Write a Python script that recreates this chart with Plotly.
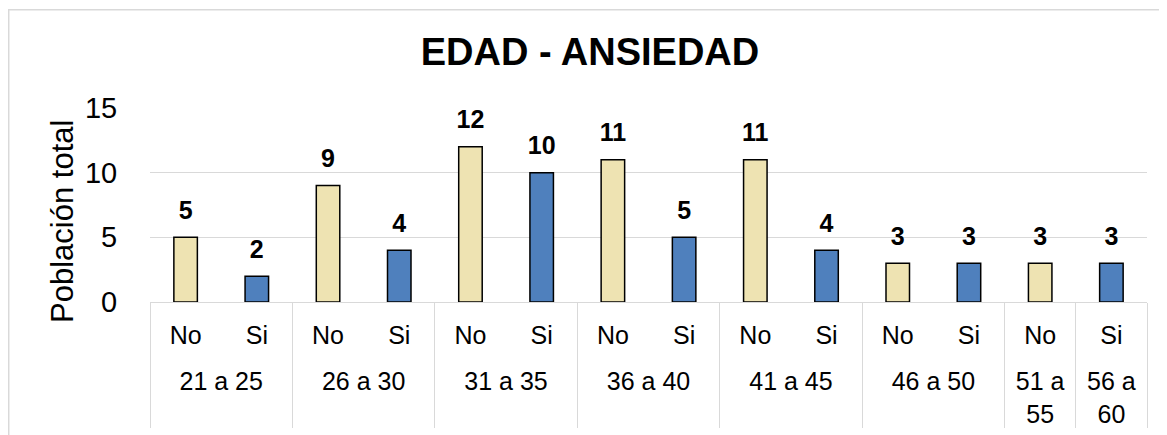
import plotly.graph_objects as go

groups = ["21 a 25", "21 a 25", "26 a 30", "26 a 30", "31 a 35", "31 a 35",
          "36 a 40", "36 a 40", "41 a 45", "41 a 45", "46 a 50", "46 a 50",
          "51 a<br>55", "56 a<br>60"]
answers = ["No", "Si", "No", "Si", "No", "Si", "No", "Si", "No", "Si", "No", "Si", "No", "Si"]
values = [5, 2, 9, 4, 12, 10, 11, 5, 11, 4, 3, 3, 3, 3]

color_map = {"No": "#EEE3B2", "Si": "#4F80BD"}
colors = [color_map[a] for a in answers]

FONT = "Liberation Sans, Arial, sans-serif"
PAD = "<span style='font-size:40px'>\u00a0</span>"
answer_labels = [PAD + a + PAD for a in answers]

fig = go.Figure()
fig.add_trace(go.Bar(
    x=[groups, answer_labels],
    y=values,
    marker=dict(color=colors, line=dict(color="#000000", width=1.5)),
    width=0.33,
    showlegend=False,
    hoverinfo="y",
))
fig.add_trace(go.Scatter(
    x=[groups, answer_labels],
    y=values,
    mode="markers+text",
    marker=dict(size=18, color="rgba(0,0,0,0)"),
    text=[str(v) for v in values],
    textposition="top center",
    textfont=dict(family=FONT, size=25, color="#000000", weight="bold"),
    cliponaxis=False,
    showlegend=False,
    hoverinfo="skip",
))

fig.update_layout(
    width=1167, height=435,
    margin=dict(l=142, r=28, t=100, b=141),
    paper_bgcolor="white", plot_bgcolor="white",
    title=dict(text="<b>EDAD - ANSIEDAD</b>", x=0.4987, xanchor="center", y=0.899, yanchor="middle",
               font=dict(family=FONT, size=38, color="#000000"), automargin=False),
    font=dict(family=FONT, color="#000000"),
)
fig.update_yaxes(range=[0, 15], tickvals=[0, 5, 10, 15], showgrid=True, gridcolor="#D9D9D9",
                 gridwidth=1, zeroline=False, showline=False, automargin=False,
                 ticks="outside", ticklen=26, tickcolor="rgba(0,0,0,0)",
                 tickfont=dict(family=FONT, size=29, color="#000000"))
fig.update_xaxes(type="multicategory", range=[-0.5, len(values) - 0.5], autorange=False,
                 showline=True, linecolor="#D9D9D9", linewidth=1,
                 showdividers=True, dividercolor="#D9D9D9", dividerwidth=1, automargin=False,
                 ticks="outside", tickson="labels", ticklen=11, tickcolor="rgba(0,0,0,0)",
                 tickfont=dict(family=FONT, size=25, color="#000000"))

fig.add_annotation(text="Población total", xref="paper", yref="paper", x=-0.0883, y=0.4175,
                   xanchor="center", yanchor="middle", textangle=-90, showarrow=False,
                   font=dict(family=FONT, size=31, color="#000000"))

fig.add_shape(type="rect", xref="paper", yref="paper", x0=-0.1417, x1=1.1, y0=-1, y1=1.507,
              line=dict(color="#D9D9D9", width=1.5), fillcolor="rgba(0,0,0,0)", layer="below")

fig.write_html("out.html")
